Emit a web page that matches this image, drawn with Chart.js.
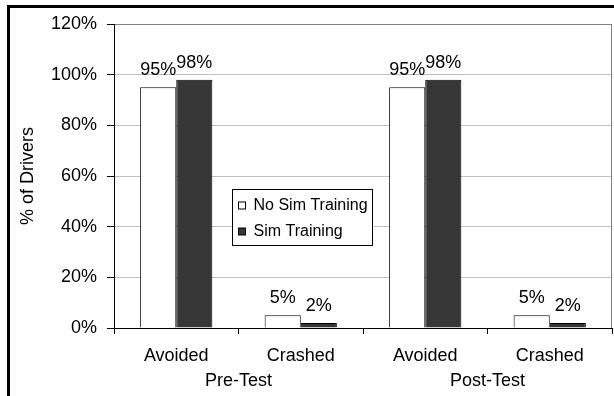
<!DOCTYPE html>
<html>
<head>
<meta charset="utf-8">
<script src="https://cdn.jsdelivr.net/npm/chart.js@4.4.0/dist/chart.umd.min.js"></script>
<style>
  html, body { margin: 0; padding: 0; background: #fff; }
  #wrap { position: relative; width: 614px; height: 396px; overflow: hidden; }
  #frame { position: absolute; left: 7px; top: 5px; width: 700px; height: 500px;
           border-left: 3px solid #000; border-top: 3px solid #000; pointer-events: none; }
</style>
</head>
<body>
<div id="wrap">
  <canvas id="chart" width="614" height="396"></canvas>
  <div id="frame"></div>
</div>
<script>
// data
const categories = ['Avoided', 'Crashed', 'Avoided', 'Crashed'];
const groups = ['Pre-Test', 'Post-Test'];
const seriesNames = ['No Sim Training', 'Sim Training'];
const noSimTraining = [95, 5, 95, 5];
const simTraining = [98, 2, 98, 2];
const yMax = 120;
const yStep = 20;

const FONT = 'Arial, "Liberation Sans", sans-serif';
Chart.defaults.font.family = FONT;
Chart.defaults.font.size = 18;
Chart.defaults.color = '#000';

// right edge of the plot area
const plotFrame = {
  id: 'plotFrame',
  beforeDatasetsDraw(chart) {
    const { ctx, chartArea: a } = chart;
    ctx.save();
    ctx.strokeStyle = '#808080';
    ctx.lineWidth = 1;
    ctx.beginPath();
    ctx.moveTo(Math.round(a.right) - 0.5, a.top);
    ctx.lineTo(Math.round(a.right) - 0.5, a.bottom);
    ctx.stroke();
    ctx.restore();
  }
};

// value labels above the bars
const valueLabels = {
  id: 'valueLabels',
  afterDatasetsDraw(chart) {
    const ctx = chart.ctx;
    ctx.save();
    ctx.font = '18px ' + FONT;
    ctx.fillStyle = '#000';
    ctx.textAlign = 'center';
    ctx.textBaseline = 'alphabetic';
    chart.data.datasets.forEach((ds, i) => {
      chart.getDatasetMeta(i).data.forEach((bar, j) => {
        ctx.fillText(ds.data[j] + '%', bar.x, bar.y - 12);
      });
    });
    ctx.restore();
  }
};

// Pre-Test / Post-Test under the category labels
const groupLabels = {
  id: 'groupLabels',
  afterDraw(chart) {
    const ctx = chart.ctx;
    const xs = chart.scales.x;
    ctx.save();
    ctx.font = '18px ' + FONT;
    ctx.fillStyle = '#000';
    ctx.textAlign = 'center';
    ctx.textBaseline = 'middle';
    groups.forEach((g, i) => {
      const x = (xs.getPixelForValue(2 * i) + xs.getPixelForValue(2 * i + 1)) / 2;
      ctx.fillText(g, x, chart.chartArea.bottom + 53);
    });
    ctx.restore();
  }
};

// boxed legend inside the plot
const boxLegend = {
  id: 'boxLegend',
  afterDraw(chart) {
    const { ctx, chartArea: a } = chart;
    const bx = Math.round(a.left + 0.236 * (a.right - a.left)) + 0.5;
    const by = Math.round(a.top + 0.543 * (a.bottom - a.top)) + 0.5;
    ctx.save();
    ctx.fillStyle = '#fff';
    ctx.strokeStyle = '#000';
    ctx.lineWidth = 1;
    ctx.fillRect(bx, by, 140, 56);
    ctx.strokeRect(bx, by, 140, 56);
    ctx.font = '16px ' + FONT;
    ctx.textBaseline = 'middle';
    ctx.textAlign = 'left';
    chart.data.datasets.forEach((ds, i) => {
      const cy = by + 16 + i * 26;
      ctx.fillStyle = ds.backgroundColor;
      ctx.fillRect(bx + 6, Math.round(cy - 4), 7, 7);
      ctx.strokeRect(bx + 6, Math.round(cy - 4), 7, 7);
      ctx.fillStyle = '#000';
      ctx.fillText(ds.label, bx + 21, cy);
    });
    ctx.restore();
  }
};

new Chart(document.getElementById('chart'), {
  type: 'bar',
  data: {
    labels: categories,
    datasets: [
      { label: seriesNames[0], data: noSimTraining, backgroundColor: '#ffffff',
        borderColor: '#000', borderWidth: 1, borderSkipped: 'bottom' },
      { label: seriesNames[1], data: simTraining, backgroundColor: '#363636',
        borderColor: '#000', borderWidth: 1, borderSkipped: 'bottom' }
    ]
  },
  options: {
    responsive: false,
    devicePixelRatio: 1,
    animation: false,
    categoryPercentage: 0.58,
    barPercentage: 1,
    layout: { padding: { top: 24, right: 2, left: 0, bottom: 0 } },
    plugins: { legend: { display: false }, tooltip: { enabled: false } },
    scales: {
      x: {
        afterFit(s) { s.height = 68; },
        grid: { offset: true, drawOnChartArea: false, drawTicks: true,
                tickLength: 6, tickColor: '#000' },
        border: { color: '#000', width: 1 },
        ticks: { padding: 11, color: '#000', maxRotation: 0 }
      },
      y: {
        min: 0,
        max: yMax,
        afterFit(s) { s.width = 114; },
        title: { display: true, text: '% of Drivers', color: '#000',
                 padding: { top: 17, bottom: 0 } },
        grid: {
          color: c => (c.tick && c.tick.value === yMax ? '#808080' : '#c0c0c0'),
          tickColor: '#000',
          tickLength: 7
        },
        border: { color: '#000', width: 1 },
        ticks: { stepSize: yStep, padding: 10, color: '#000',
                 callback: v => v + '%' }
      }
    }
  },
  plugins: [plotFrame, valueLabels, groupLabels, boxLegend]
});
</script>
</body>
</html>
